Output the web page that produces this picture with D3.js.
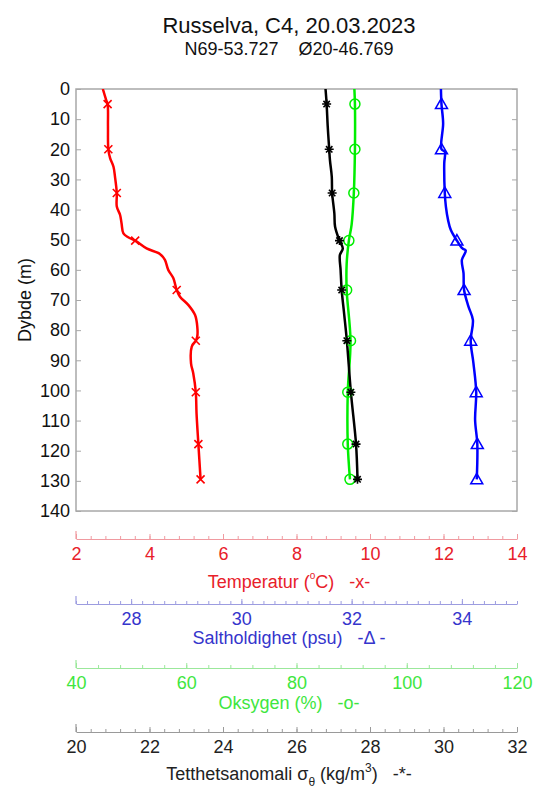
<!DOCTYPE html>
<html>
<head>
<meta charset="utf-8">
<script src="https://cdn.jsdelivr.net/npm/d3@7"></script>
<style>
  html, body { margin: 0; padding: 0; background: #fff; }
  svg { display: block; font-family: "Liberation Sans", Arial, sans-serif; }
  text { white-space: pre; }
</style>
</head>
<body>
<svg id="chart" width="535" height="789"></svg>
<script>
// ---------- DATA ----------
const title = "Russelva, C4, 20.03.2023";
const subtitle = "N69-53.727    Ø20-46.769";

const depthTicks = [0,10,20,30,40,50,60,70,80,90,100,110,120,130,140];

// Temperature profile (°C)
const tempDepth = [0,3.6,5,12.5,20,23,25.8,29,34.5,39,41.8,44.6,47.9,49.2,50.3,52.9,54.8,56.7,60,62.8,66.7,68.9,71.7,75,78.8,82.1,83.5,85.5,91,94.3,100.6,107.6,117.8,129.5];
const tempValues = [2.73,2.82,2.86,2.87,2.88,2.93,3.02,3.06,3.11,3.11,3.20,3.24,3.29,3.42,3.61,3.92,4.29,4.42,4.51,4.65,4.74,4.83,5.06,5.24,5.30,5.30,5.26,5.15,5.13,5.19,5.26,5.28,5.33,5.39];

// Salinity profile (psu)
const salDepth = [0,5,11.4,20,20.8,24.7,34.5,39,43.5,46.8,50.3,52.9,53.6,56.7,61.1,66.7,72.2,76.6,83.5,91,100.6,109.8,117.8,129.5];
const salValues = [33.62,33.63,33.66,33.63,33.69,33.68,33.69,33.71,33.75,33.80,33.91,34.01,34.07,34.00,34.03,34.04,34.12,34.20,34.16,34.21,34.26,34.24,34.28,34.27];

// Oxygen profile (%)
const oxyDepth = [0,5,20,34.5,45,50.3,58,66.7,83.5,100.6,117.8,129.5];
const oxyValues = [90.5,90.6,90.6,90.4,90.0,89.5,89.1,89.1,89.8,89.3,89.3,89.7];

// Density anomaly profile (kg/m3)
const densDepth = [0,5,12.5,20,23.6,29.1,34.5,41.3,45.7,50.3,52.9,55.1,60.1,66.7,75,83.5,100.6,117.8,129.5];
const densValues = [26.79,26.82,26.85,26.89,26.91,26.96,26.97,27.03,27.05,27.17,27.26,27.18,27.20,27.23,27.30,27.37,27.48,27.62,27.66];

// Marker depths (m) and marker values for each series
const markerDepth = [5,20,34.5,50.3,66.7,83.5,100.6,117.8,129.5];
const tempMarkers = [2.86,2.88,3.11,3.61,4.74,5.26,5.26,5.33,5.39];
const salMarkers  = [33.63,33.63,33.69,33.91,34.04,34.16,34.26,34.28,34.27];
const oxyMarkers  = [90.6,90.6,90.4,89.5,89.1,89.8,89.3,89.3,89.7];
const densMarkers = [26.82,26.89,26.97,27.17,27.23,27.37,27.48,27.62,27.66];

// Axis domains and ticks
const tempDomain = [2,14], tempTicks = [2,4,6,8,10,12,14];
const salDomain  = [27,35], salTicks = [28,30,32,34];
const oxyDomain  = [40,120], oxyTicks = [40,60,80,100,120];
const densDomain = [20,32], densTicks = [20,22,24,26,28,30,32];
const tempMinorStep = 0.4, salMinorStep = 0.2, oxyMinorStep = 4, densMinorStep = 0.4;

// ---------- LAYOUT ----------
const svg = d3.select("#chart");
const L = 76, R = 517, T = 89, B = 511;
const cx = 289;
const FS = 18;

const y = d3.scaleLinear().domain([0,140]).range([T,B]);
const xT = d3.scaleLinear().domain(tempDomain).range([L,R]);
const xS = d3.scaleLinear().domain(salDomain).range([L,R]);
const xO = d3.scaleLinear().domain(oxyDomain).range([L,R]);
const xD = d3.scaleLinear().domain(densDomain).range([L,R]);

// Title
svg.append("text").attr("x", cx).attr("y", 33).attr("text-anchor","middle")
  .attr("font-size", 22).attr("fill","#111").text(title);
svg.append("text").attr("x", cx).attr("y", 55).attr("text-anchor","middle")
  .attr("font-size", 18).attr("fill","#111").text(subtitle);

// Plot box
const boxColor = "#a8a8a8";
svg.append("rect").attr("x", L).attr("y", T).attr("width", R-L).attr("height", B-T)
  .attr("fill","none").attr("stroke", boxColor).attr("stroke-width", 1.5);

// Left depth axis (ticks inward)
const gy = svg.append("g").attr("transform", `translate(${L},0)`)
  .call(d3.axisLeft(y).tickValues(depthTicks).tickSizeInner(-5).tickSizeOuter(0).tickPadding(6));
gy.select(".domain").remove();
gy.selectAll(".tick line").attr("stroke", boxColor);
gy.selectAll(".tick text").attr("font-size", FS).attr("fill","#111")
  .attr("font-family", "Liberation Sans, Arial, sans-serif");
// Right side inward ticks
const gyr = svg.append("g").attr("transform", `translate(${R},0)`)
  .call(d3.axisRight(y).tickValues(depthTicks).tickSizeInner(-5).tickSizeOuter(0).tickFormat(""));
gyr.select(".domain").remove();
gyr.selectAll(".tick line").attr("stroke", boxColor);

// Y label
svg.append("text").attr("transform", `translate(31,${(T+B)/2}) rotate(-90)`)
  .attr("text-anchor","middle").attr("font-size", FS).attr("fill","#111").text("Dybde (m)");

// Clip for lines
svg.append("clipPath").attr("id","clip").append("rect")
  .attr("x", L).attr("y", T).attr("width", R-L).attr("height", B-T);

function profile(depths, values, xs, color) {
  const pts = depths.map((d,i) => [xs(values[i]), y(d)]);
  const line = d3.line().curve(d3.curveCatmullRom.alpha(0.5));
  svg.append("path").attr("d", line(pts)).attr("fill","none")
    .attr("stroke", color).attr("stroke-width", 2.5).attr("stroke-linejoin","round")
    .attr("clip-path","url(#clip)");
}
profile(tempDepth, tempValues, xT, "#ff0000");
profile(oxyDepth, oxyValues, xO, "#00ee00");
profile(densDepth, densValues, xD, "#000000");
profile(salDepth, salValues, xS, "#0000ff");

// Markers
const mg = svg.append("g");
markerDepth.forEach((d,i) => {
  const tx = xT(tempMarkers[i]), ty = y(d);
  mg.append("path").attr("d", `M${tx-4},${ty-4}L${tx+4},${ty+4}M${tx-4},${ty+4}L${tx+4},${ty-4}`)
    .attr("stroke","#ff0000").attr("stroke-width",1.6).attr("fill","none");
  mg.append("circle").attr("cx", xO(oxyMarkers[i])).attr("cy", y(d)).attr("r", 5)
    .attr("fill","none").attr("stroke","#00ee00").attr("stroke-width",1.5);
  const dx = xD(densMarkers[i]), dy = y(d), a = 4.5, b = 3.2;
  mg.append("path").attr("d",
      `M${dx-a},${dy}L${dx+a},${dy}M${dx},${dy-a}L${dx},${dy+a}M${dx-b},${dy-b}L${dx+b},${dy+b}M${dx-b},${dy+b}L${dx+b},${dy-b}`)
    .attr("stroke","#000").attr("stroke-width",1.6).attr("fill","none");
  const sx = xS(salMarkers[i]), sy = y(d);
  mg.append("path").attr("d", `M${sx},${sy-6}L${sx+6},${sy+4.5}L${sx-6},${sy+4.5}Z`)
    .attr("fill","none").attr("stroke","#0000ff").attr("stroke-width",1.5);
});

// Bottom axes
function minorTicks(domain, step) {
  const n = Math.round((domain[1]-domain[0])/step);
  return d3.range(n+1).map(i => +(domain[0] + i*step).toFixed(4));
}
function bottomAxis(scale, ticks, minorStep, yPos, lineColor, textColor) {
  const g = svg.append("g").attr("transform", `translate(0,${yPos})`);
  const gm = g.append("g").call(d3.axisBottom(scale).tickValues(minorTicks(scale.domain(), minorStep))
    .tickSizeInner(-3).tickSizeOuter(0).tickFormat(""));
  gm.select(".domain").attr("stroke", lineColor).attr("stroke-width", 1.2);
  gm.selectAll(".tick line").attr("stroke", lineColor);
  const gM = g.append("g").call(d3.axisBottom(scale).tickValues(ticks)
    .tickSizeInner(-5).tickSizeOuter(0).tickPadding(8));
  gM.select(".domain").remove();
  gM.selectAll(".tick line").attr("stroke", lineColor);
  gM.selectAll(".tick text").attr("font-size", FS).attr("fill", textColor)
    .attr("font-family", "Liberation Sans, Arial, sans-serif");
  g.append("line").attr("x1", scale.range()[0]).attr("x2", scale.range()[0])
    .attr("y1", 0).attr("y2", -8).attr("stroke", lineColor).attr("stroke-width", 1.2);
}
bottomAxis(xT, tempTicks, tempMinorStep, 539, "#f09aa0", "#e8202a");
bottomAxis(xS, salTicks, salMinorStep, 604, "#9c9ce0", "#3535cc");
bottomAxis(xO, oxyTicks, oxyMinorStep, 668, "#9be89b", "#3ee63e");
bottomAxis(xD, densTicks, densMinorStep, 732, "#9a9a9a", "#222222");

// Axis titles
const t1 = svg.append("text").attr("x", cx).attr("y", 588).attr("text-anchor","middle")
  .attr("font-size", FS).attr("fill","#e8202a");
t1.append("tspan").text("Temperatur (");
t1.append("tspan").attr("font-size", 10).attr("dy", -9).text("o");
t1.append("tspan").attr("dy", 9).text("C)   -x-");

svg.append("text").attr("x", cx).attr("y", 644).attr("text-anchor","middle")
  .attr("font-size", FS).attr("fill","#3535cc").text("Saltholdighet (psu)   -Δ -");

svg.append("text").attr("x", cx).attr("y", 709).attr("text-anchor","middle")
  .attr("font-size", FS).attr("fill","#3ee63e").text("Oksygen (%)   -o-");

const t4 = svg.append("text").attr("x", cx).attr("y", 780).attr("text-anchor","middle")
  .attr("font-size", FS).attr("fill","#222");
t4.append("tspan").text("Tetthetsanomali σ");
t4.append("tspan").attr("font-size", 12).attr("dy", 6).text("θ");
t4.append("tspan").attr("dy", -6).text(" (kg/m");
t4.append("tspan").attr("font-size", 12).attr("dy", -8).text("3");
t4.append("tspan").attr("dy", 8).text(")   -*-");
</script>
</body>
</html>
